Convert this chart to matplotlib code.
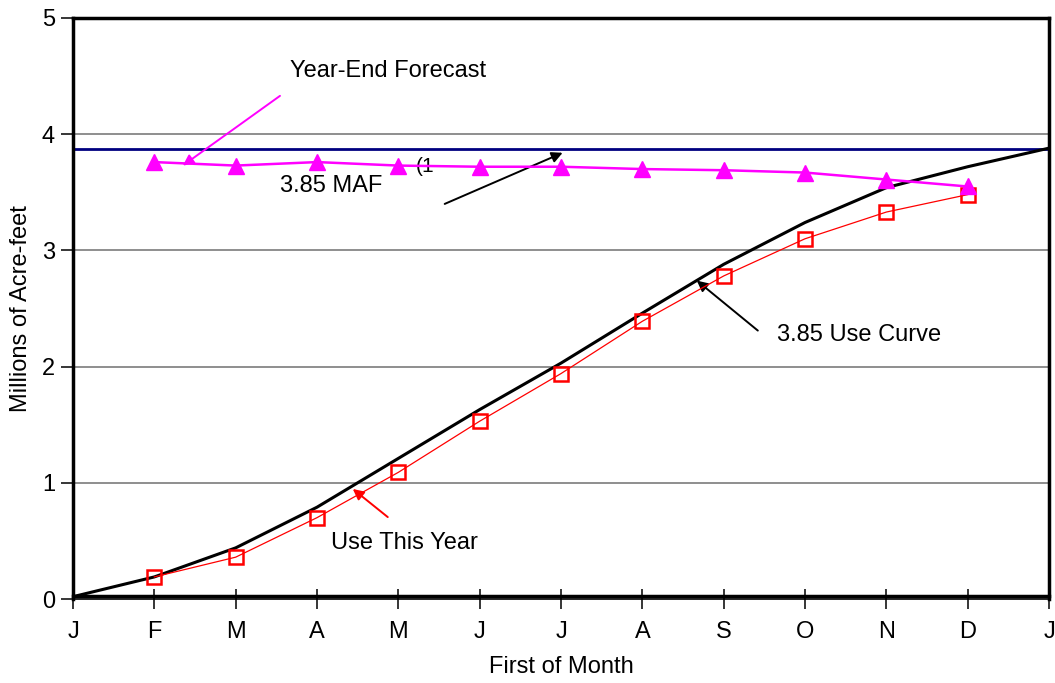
import matplotlib
matplotlib.use("Agg")
import matplotlib.pyplot as plt

plt.rcParams['font.family'] = ['Liberation Sans', 'DejaVu Sans']

# month positions (first of month), Jan .. next Jan
months = list(range(13))
month_labels = ["J", "F", "M", "A", "M", "J", "J", "A", "S", "O", "N", "D", "J"]

# 3.85 MAF use curve (black)
use_curve = [0.02, 0.19, 0.44, 0.79, 1.21, 1.63, 2.03, 2.46, 2.88, 3.24, 3.54, 3.72, 3.88]

# use this year (red squares), Feb .. Dec
use_months = list(range(1, 12))
use_this_year = [0.19, 0.36, 0.70, 1.09, 1.53, 1.94, 2.39, 2.78, 3.10, 3.33, 3.48]

# year-end forecast (magenta triangles), Feb .. Dec
forecast = [3.76, 3.73, 3.76, 3.73, 3.72, 3.72, 3.70, 3.69, 3.67, 3.61, 3.55]

maf_level = 3.875

FS = 17

fig = plt.figure(figsize=(10.55, 6.83), dpi=100)
ax = fig.add_axes([73 / 1055, 1 - 599 / 683, (1049 - 73) / 1055, (599 - 18) / 683])

# grid lines
for yv in [1, 2, 3, 4]:
    ax.axhline(yv, color="#707070", lw=1.1, zorder=1)

ax.axhline(maf_level, color="#000080", lw=2.0, zorder=2)
ax.plot(months, use_curve, color="black", lw=2.2, zorder=3)
ax.plot(use_months, use_this_year, color="red", lw=0.9, marker="s", ms=10.5,
        mfc="none", mec="red", mew=1.8, zorder=4)
ax.plot(use_months, forecast, color="#FF00FF", lw=1.8, marker="^", ms=11,
        mfc="#FF00FF", mec="#FF00FF", zorder=5)

ax.set_xlim(0, 12)
ax.set_ylim(0, 5)
ax.set_xticks(months)
ax.set_xticklabels(month_labels)
ax.set_yticks([0, 1, 2, 3, 4, 5])

# frame
for s in ["left", "right", "top"]:
    ax.spines[s].set_linewidth(2.5)
ax.spines["bottom"].set_linewidth(1.2)
ax.axhline(0.027, color="black", lw=2.5, zorder=6, clip_on=False)

ax.tick_params(axis="y", direction="out", length=9, width=1.1, pad=4, labelsize=FS)
ax.tick_params(axis="x", direction="inout", length=14, width=1.1, pad=9, labelsize=FS)

ax.set_xlabel("First of Month", fontsize=FS, labelpad=9)
ax.set_ylabel("Millions of Acre-feet", fontsize=FS, labelpad=7)

arrow = dict(arrowstyle="-|>", lw=1.4, shrinkA=0, shrinkB=0, mutation_scale=16)

# Year-End Forecast
ax.text(2.67, 4.54, "Year-End Forecast", fontsize=FS, va="center", ha="left")
ax.annotate("", xy=(1.35, 3.73), xytext=(2.545, 4.33),
            arrowprops=dict(arrow, color="#FF00FF"))

# 3.85 MAF
ax.text(2.545, 3.55, "3.85 MAF", fontsize=FS, va="center", ha="left")
ax.text(4.22, 3.72, "(1", fontsize=FS - 2, va="center", ha="left")
ax.annotate("", xy=(6.02, 3.84), xytext=(4.57, 3.40),
            arrowprops=dict(arrow, color="black"))

# 3.85 Use Curve
ax.text(8.66, 2.27, "3.85 Use Curve", fontsize=FS, va="center", ha="left")
ax.annotate("", xy=(7.67, 2.74), xytext=(8.42, 2.31),
            arrowprops=dict(arrow, color="black"))

# Use This Year
ax.text(3.17, 0.48, "Use This Year", fontsize=FS, va="center", ha="left")
ax.annotate("", xy=(3.44, 0.947), xytext=(3.87, 0.705),
            arrowprops=dict(arrow, color="red"))

fig.savefig("out.png", dpi=100)
